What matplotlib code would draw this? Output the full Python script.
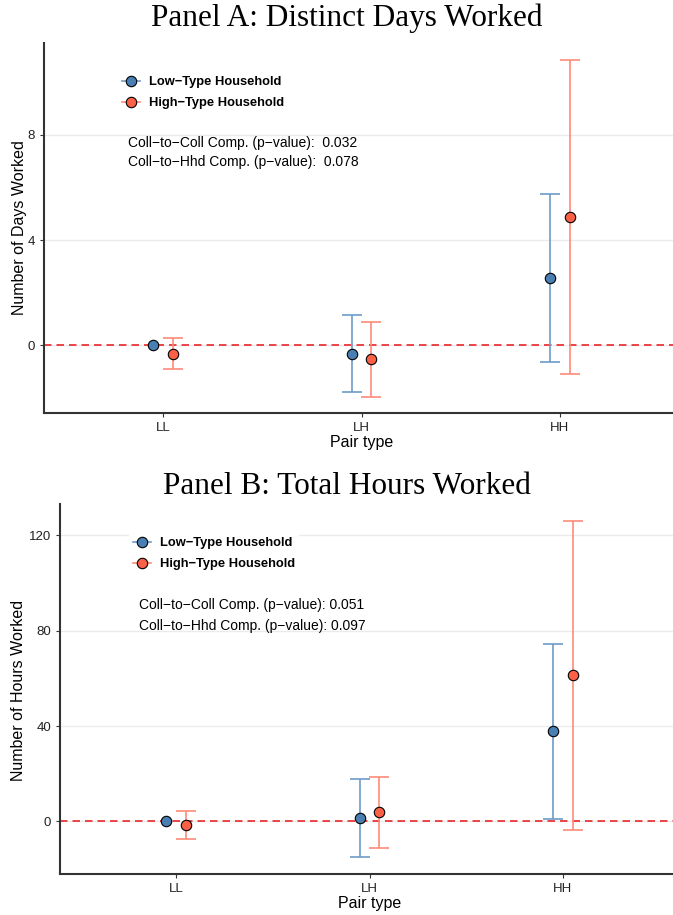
import numpy as np
import matplotlib.pyplot as plt
from matplotlib.lines import Line2D

plt.rcParams['font.family'] = ['Liberation Sans', 'DejaVu Sans']

pair_types = ["LL", "LH", "HH"]

# Panel A: distinct days worked
days_low = [0.0, -0.32, 2.55]
days_low_lo = [np.nan, -1.79, -0.63]
days_low_hi = [np.nan, 1.15, 5.74]
days_high = [-0.32, -0.52, 4.88]
days_high_lo = [-0.91, -1.96, -1.09]
days_high_hi = [0.28, 0.90, 10.86]
days_pvals = ["0.032", "0.078"]

# Panel B: total hours worked
hours_low = [0.0, 1.3, 37.9]
hours_low_lo = [np.nan, -15.0, 0.84]
hours_low_hi = [np.nan, 17.8, 74.6]
hours_high = [-1.4, 3.9, 61.3]
hours_high_lo = [-7.3, -11.1, -3.8]
hours_high_hi = [4.2, 18.5, 126.1]
hours_pvals = ["0.051", "0.097"]

blue_pt, blue_bar = "#4a7fb3", "#6e9bc8"
red_pt, red_bar = "#fb6146", "#fd8b78"

W, H = 673, 915
fig = plt.figure(figsize=(W / 100, H / 100), dpi=100)


def px_axes(left, top, right, bottom):
    return fig.add_axes([left / W, 1 - bottom / H, (right - left) / W, (bottom - top) / H])


def draw_panel(ax, low, low_lo, low_hi, high, high_lo, high_hi, yticks, ylim):
    x = np.arange(1, len(pair_types) + 1)
    for off, m, lo, hi, pc, bc in [(-0.05, low, low_lo, low_hi, blue_pt, blue_bar),
                                    (0.05, high, high_lo, high_hi, red_pt, red_bar)]:
        m = np.array(m)
        lo = np.array(lo)
        hi = np.array(hi)
        ok = ~np.isnan(lo)
        ax.errorbar(x[ok] + off, m[ok], yerr=[m[ok] - lo[ok], hi[ok] - m[ok]], fmt="none",
                    ecolor=bc, elinewidth=1.2, capsize=7.2, capthick=1.2, zorder=3)
        ax.plot(x + off, m, "o", ms=7.5, mfc=pc, mec="black", mew=0.8, zorder=4)
    ax.axhline(0, color="#e8262a", lw=1.2, ls=(0, (4.5, 3)), zorder=2)
    ax.set_xlim(0.4, 3.6)
    ax.set_ylim(*ylim)
    ax.set_xticks(x)
    ax.set_xticklabels(pair_types)
    ax.set_yticks(yticks)
    ax.grid(axis="y", color="#ebebeb", lw=1.0, zorder=0)
    ax.set_axisbelow(True)
    for s in ["top", "right"]:
        ax.spines[s].set_visible(False)
    for s in ["left", "bottom"]:
        ax.spines[s].set_color("#333333")
        ax.spines[s].set_linewidth(1.5)
    ax.tick_params(axis="both", labelsize=9.5, length=3, color="#333333", labelcolor="#222222")
    ax.set_xlabel("Pair type", fontsize=11.5, labelpad=1)


def add_legend(ax, x, y):
    handles = [Line2D([], [], color=blue_bar, marker="o", ms=7.5, mfc=blue_pt, mec="black", mew=0.8, lw=1.2),
               Line2D([], [], color=red_bar, marker="o", ms=7.5, mfc=red_pt, mec="black", mew=0.8, lw=1.2)]
    leg = ax.legend(handles, ["Low\u2212Type Household", "High\u2212Type Household"],
                    loc="upper left", bbox_to_anchor=(x / W, 1 - y / H), bbox_transform=fig.transFigure,
                    frameon=True, facecolor="white", edgecolor="none", framealpha=1,
                    prop={"weight": "bold", "size": 9.3}, handlelength=1.4, handletextpad=0.7,
                    labelspacing=0.7, borderpad=0.3, fancybox=False)
    leg.set_zorder(5)


# Panel A
axA = px_axes(44, 43, 679, 413)
draw_panel(axA, days_low, days_low_lo, days_low_hi, days_high, days_high_lo, days_high_hi,
           [0, 4, 8], (-2.58, 11.5))
add_legend(axA, 112, 66)
fig.text(347 / W, 1 - 18 / H, "Panel A: Distinct Days Worked", ha="center", va="center",
         fontsize=22.5, family="Liberation Serif")
fig.text(20 / W, 1 - 228 / H, "Number of Days Worked", rotation=90, ha="center", va="center", fontsize=11.5)
fig.text(128 / W, 1 - 143 / H, "Coll\u2212to\u2212Coll Comp. (p\u2212value):  " + days_pvals[0],
         ha="left", va="center", fontsize=10)
fig.text(128 / W, 1 - 162 / H, "Coll\u2212to\u2212Hhd Comp. (p\u2212value):  " + days_pvals[1],
         ha="left", va="center", fontsize=10)

# Panel B
axB = px_axes(60, 504, 679, 874)
draw_panel(axB, hours_low, hours_low_lo, hours_low_hi, hours_high, hours_high_lo, hours_high_hi,
           [0, 40, 80, 120], (-22.1, 133.2))
add_legend(axB, 123, 527)
fig.text(347 / W, 1 - 487 / H, "Panel B: Total Hours Worked", ha="center", va="center",
         fontsize=22.5, family="Liberation Serif")
fig.text(19 / W, 1 - 690 / H, "Number of Hours Worked", rotation=90, ha="center", va="center", fontsize=11.5)
fig.text(139 / W, 1 - 605 / H, "Coll\u2212to\u2212Coll Comp. (p\u2212value): " + hours_pvals[0],
         ha="left", va="center", fontsize=10)
fig.text(139 / W, 1 - 626 / H, "Coll\u2212to\u2212Hhd Comp. (p\u2212value): " + hours_pvals[1],
         ha="left", va="center", fontsize=10)

fig.savefig("out.png", dpi=100)
